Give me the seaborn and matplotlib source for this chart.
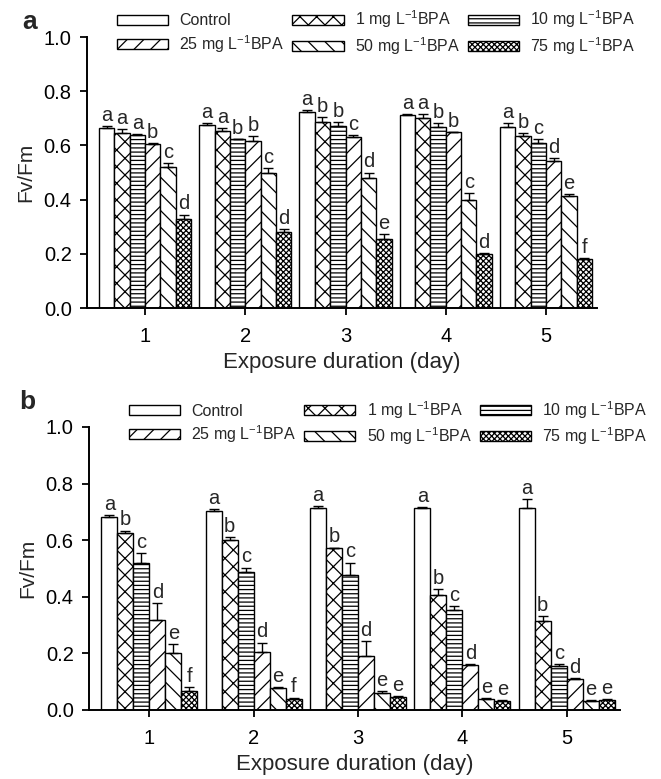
import numpy as np
import pandas as pd
import matplotlib
matplotlib.use("Agg")
import matplotlib.pyplot as plt
import seaborn as sns
from matplotlib.patches import Patch

# ---------------- data ----------------
days = ["1", "2", "3", "4", "5"]
treatments = ["Control", "1 mg L$^{-1}$BPA", "10 mg L$^{-1}$BPA",
              "25 mg L$^{-1}$BPA", "50 mg L$^{-1}$BPA", "75 mg L$^{-1}$BPA"]

# panel a
ctrl_a = [0.665, 0.675, 0.725, 0.712, 0.668]
bpa1_a = [0.645, 0.655, 0.685, 0.700, 0.633]
bpa10_a = [0.640, 0.622, 0.670, 0.668, 0.610]
bpa25_a = [0.605, 0.615, 0.630, 0.648, 0.543]
bpa50_a = [0.520, 0.500, 0.480, 0.400, 0.414]
bpa75_a = [0.330, 0.280, 0.253, 0.200, 0.180]

err_ctrl_a = [0.008, 0.006, 0.004, 0.004, 0.015]
err_bpa1_a = [0.015, 0.010, 0.020, 0.015, 0.012]
err_bpa10_a = [0.003, 0.003, 0.015, 0.015, 0.012]
err_bpa25_a = [0.003, 0.020, 0.008, 0.003, 0.010]
err_bpa50_a = [0.015, 0.018, 0.020, 0.025, 0.006]
err_bpa75_a = [0.015, 0.010, 0.020, 0.003, 0.003]

let_ctrl_a = ["a", "a", "a", "a", "a"]
let_bpa1_a = ["a", "a", "b", "a", "b"]
let_bpa10_a = ["a", "b", "b", "b", "c"]
let_bpa25_a = ["b", "b", "c", "b", "d"]
let_bpa50_a = ["c", "c", "d", "c", "e"]
let_bpa75_a = ["d", "d", "e", "d", "f"]

# panel b
ctrl_b = [0.682, 0.703, 0.715, 0.714, 0.712]
bpa1_b = [0.624, 0.602, 0.571, 0.406, 0.315]
bpa10_b = [0.518, 0.488, 0.476, 0.353, 0.155]
bpa25_b = [0.318, 0.206, 0.190, 0.159, 0.109]
bpa50_b = [0.202, 0.076, 0.059, 0.039, 0.033]
bpa75_b = [0.068, 0.038, 0.047, 0.033, 0.035]

err_ctrl_b = [0.008, 0.008, 0.005, 0.004, 0.032]
err_bpa1_b = [0.010, 0.010, 0.003, 0.020, 0.017]
err_bpa10_b = [0.035, 0.015, 0.045, 0.015, 0.007]
err_bpa25_b = [0.060, 0.032, 0.055, 0.003, 0.003]
err_bpa50_b = [0.030, 0.004, 0.009, 0.003, 0.003]
err_bpa75_b = [0.014, 0.006, 0.003, 0.003, 0.004]

let_ctrl_b = ["a", "a", "a", "a", "a"]
let_bpa1_b = ["b", "b", "b", "b", "b"]
let_bpa10_b = ["c", "c", "c", "c", "c"]
let_bpa25_b = ["d", "d", "d", "d", "d"]
let_bpa50_b = ["e", "e", "e", "e", "e"]
let_bpa75_b = ["f", "f", "e", "e", "e"]

yticks = [0.0, 0.2, 0.4, 0.6, 0.8, 1.0]

hatches = ["", "xx", "----", "//", "\\\\", "xxxxxx"]

# ---------------- style ----------------
sns.set_theme(style="ticks")
plt.rcParams["font.family"] = ["Liberation Sans", "DejaVu Sans"]
plt.rcParams["mathtext.default"] = "regular"
plt.rcParams["hatch.linewidth"] = 0.9

fig = plt.figure(figsize=(6.61, 7.79), dpi=100)
ax_a = fig.add_axes([0.1316, 0.6046, 0.7716, 0.3479])
ax_b = fig.add_axes([0.1346, 0.0886, 0.8033, 0.3633])


def draw(ax, means, errs, letters):
    rows = []
    for t, m in zip(treatments, means):
        for d, v in zip(days, m):
            rows.append({"day": d, "treatment": t, "value": v})
    df = pd.DataFrame(rows)
    sns.barplot(data=df, x="day", y="value", hue="treatment",
                order=days, hue_order=treatments,
                palette=["white"] * len(treatments), saturation=1,
                edgecolor="black", linewidth=1.0, width=0.92, gap=0,
                errorbar=None, legend=False, ax=ax)
    for cont, h, e, lets in zip(ax.containers, hatches, errs, letters):
        xs, tops = [], []
        for bar in cont:
            bar.set_hatch(h)
            bar.set_edgecolor("black")
            xs.append(bar.get_x() + bar.get_width() / 2)
            tops.append(bar.get_height())
        ax.errorbar(xs, tops, yerr=[np.zeros(len(e)), e], fmt="none",
                    ecolor="black", elinewidth=1.0, capsize=3.5, capthick=1.0,
                    zorder=3)
        for x, t, ee, l in zip(xs, tops, e, lets):
            ax.text(x, t + ee + 0.004, l, ha="center", va="bottom",
                    fontsize=14.5)

    ax.set_ylim(0, 1.0)
    ax.set_yticks(yticks)
    ax.set_yticklabels([f"{v:.1f}" for v in yticks])
    ax.set_xlim(-0.58, 4.51)
    ax.set_xlabel("Exposure duration (day)", fontsize=16, labelpad=4)
    ax.set_ylabel("Fv/Fm", fontsize=15, labelpad=6)
    sns.despine(ax=ax)
    for s in ["left", "bottom"]:
        ax.spines[s].set_linewidth(1.4)
        ax.spines[s].set_color("black")
    ax.tick_params(axis="both", direction="out", length=5, width=1.3,
                   colors="black", labelsize=14.5)
    ax.tick_params(axis="x", pad=9)
    ax.tick_params(axis="y", pad=6)


draw(ax_a,
     [ctrl_a, bpa1_a, bpa10_a, bpa25_a, bpa50_a, bpa75_a],
     [err_ctrl_a, err_bpa1_a, err_bpa10_a, err_bpa25_a, err_bpa50_a, err_bpa75_a],
     [let_ctrl_a, let_bpa1_a, let_bpa10_a, let_bpa25_a, let_bpa50_a, let_bpa75_a])
draw(ax_b,
     [ctrl_b, bpa1_b, bpa10_b, bpa25_b, bpa50_b, bpa75_b],
     [err_ctrl_b, err_bpa1_b, err_bpa10_b, err_bpa25_b, err_bpa50_b, err_bpa75_b],
     [let_ctrl_b, let_bpa1_b, let_bpa10_b, let_bpa25_b, let_bpa50_b, let_bpa75_b])

handles = [Patch(facecolor="white", edgecolor="black", hatch=h, linewidth=1.0)
           for h in hatches]
# legend order row-wise: matplotlib fills column-wise, so reorder
order = [0, 3, 1, 4, 2, 5]
for ax, anchor in [(ax_a, (0.177, 0.989)), (ax_b, (0.195, 0.488))]:
    fig.legend([handles[i] for i in order], [treatments[i] for i in order],
               ncol=3, loc="upper left", bbox_to_anchor=anchor,
               frameon=False, fontsize=11.5, handlelength=3.2,
               handleheight=0.6, handletextpad=0.7, columnspacing=0.5,
               labelspacing=0.3, borderpad=0, borderaxespad=0)

fig.text(0.045, 0.972, "a", fontsize=19, fontweight="bold", ha="center", va="center")
fig.text(0.042, 0.484, "b", fontsize=19, fontweight="bold", ha="center", va="center")

fig.savefig("out.png", dpi=100)
